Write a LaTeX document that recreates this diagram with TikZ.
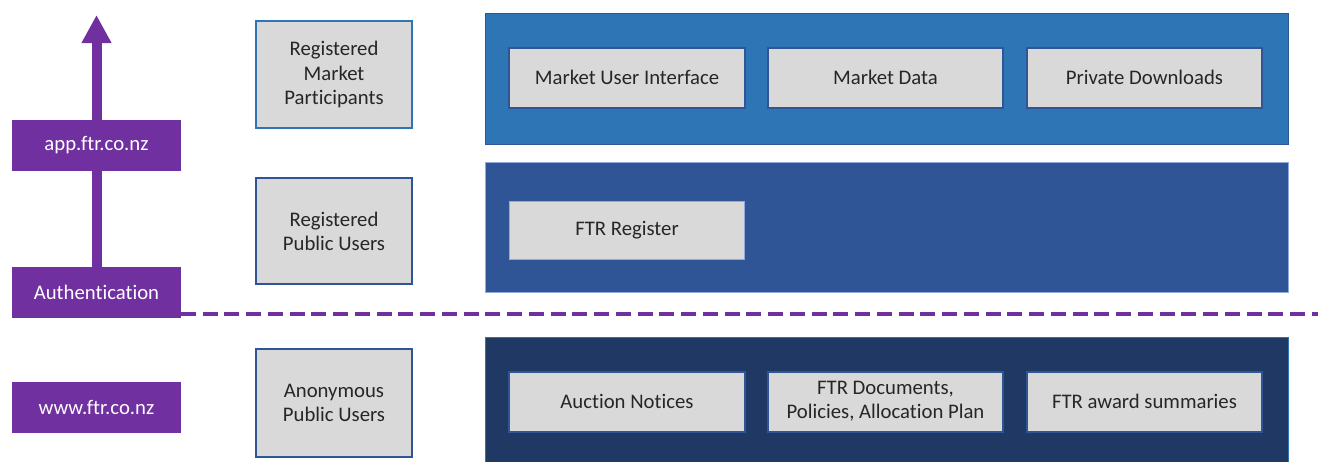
\documentclass[tikz,border=0pt]{standalone}
\usepackage{fontspec}
\setmainfont{Carlito}[Ligatures=NoCommon]
\usepackage{tikz}
\usetikzlibrary{positioning,arrows.meta,backgrounds}
\definecolor{ftrpurple}{HTML}{7030A0}
\definecolor{lightblue}{HTML}{2E75B6}
\definecolor{midblue}{HTML}{2F5597}
\definecolor{darkblue}{HTML}{203864}
\definecolor{paleblue}{HTML}{8FAADC}
\definecolor{boxgrey}{HTML}{D9D9D9}
\definecolor{textgrey}{HTML}{262626}

\begin{document}
\begin{tikzpicture}[x=0.02cm, y=-0.02cm,
  every node/.style={font=\fontsize{11.8}{13.8}\selectfont, align=center, inner sep=0pt},
  site/.style={fill=ftrpurple, text=white, minimum width=3.38cm, minimum height=1.02cm},
  user/.style={draw=midblue, line width=0.04cm, fill=boxgrey, text=textgrey, minimum width=3.12cm},
  layer/.style={line width=0.02cm, minimum width=16.06cm},
  item/.style={draw=midblue, line width=0.04cm, fill=boxgrey, text=textgrey, minimum width=4.72cm, minimum height=1.2cm}]
\useasboundingbox (0,0) rectangle (1318,461);

% left column: sites
\node[site] (app) at (96.5,145.5) {app.ftr.co.nz};
\node[site] (auth) at (96.5,292.5) {Authentication};
\node[site] (www) at (96.5,407.5) {www.ftr.co.nz};
\coordinate (up) at (96.5,15);
\coordinate (dashstart) at (181,314);
\coordinate (dashend) at (1318,314);

% users
\node[user, draw=lightblue, minimum height=2.14cm] (rmp) at (334,74.5) {Registered\\Market\\Participants};
\node[user, minimum height=2.12cm] (rpu) at (334,231) {Registered\\Public Users};
\node[user, minimum height=2.16cm] (apu) at (334,403) {Anonymous\\Public Users};

% layers
\node[layer, fill=lightblue, draw=midblue, minimum height=2.62cm] (private) at (887,79) {};
\node[layer, fill=midblue, draw=paleblue, minimum height=2.6cm] (registered) at (887,227.5) {};
\node[layer, fill=darkblue, draw=lightblue, minimum height=2.64cm] (public) at (887,403.5) {};

\node[item] (mui) at (627,77.5) {Market User Interface};
\node[item] (mdata) at (885.5,77.5) {Market Data};
\node[item] (pdl) at (1144.5,77.5) {Private Downloads};

\node[item, draw=paleblue, line width=0.02cm, minimum height=1.16cm] (reg) at (627,230.5) {FTR Register};

\node[item] (notices) at (627,401.5) {Auction Notices};
\node[item] (docs) at (885.5,401.5) {FTR Documents,\\Policies, Allocation Plan};
\node[item] (awards) at (1144.5,401.5) {FTR award summaries};

\begin{pgfonlayer}{background}
\draw[ftrpurple, line width=0.2cm, -{Triangle[length=0.56cm, width=0.56cm]}] (auth.north) -- (up);
\end{pgfonlayer}
\draw[ftrpurple, line width=0.08cm, dash pattern=on 0.3cm off 0.135cm] (dashstart) -- (dashend);
\end{tikzpicture}
\end{document}
